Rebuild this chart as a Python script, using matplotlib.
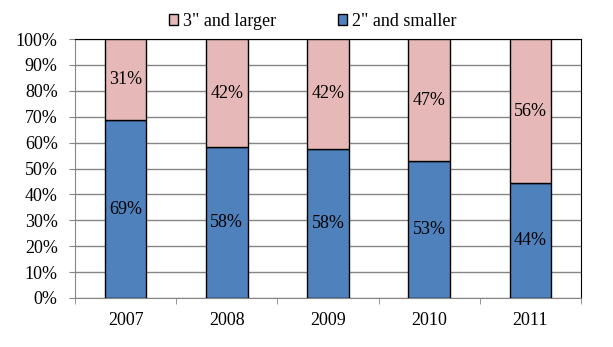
import numpy as np
import matplotlib.pyplot as plt

# datos
years = ['2007', '2008', '2009', '2010', '2011']
small = [68.6, 58.3, 57.6, 52.8, 44.3]   # 2" and smaller
large = [100 - v for v in small]          # 3" and larger

plt.rcParams['font.family'] = ['Liberation Serif', 'DejaVu Serif']

fig = plt.figure(figsize=(6.13, 3.47), dpi=100)
ax = fig.add_axes([75/613, 1 - 298/347, (581-75)/613, (298-39)/347])

x = np.arange(len(years))
w = 0.41
b1 = ax.bar(x, small, w, color='#4F81BD', edgecolor='black', linewidth=1, label='2" and smaller', zorder=3)
b2 = ax.bar(x, large, w, bottom=small, color='#E6B9B8', edgecolor='black', linewidth=1, label='3" and larger', zorder=3)

for i in range(len(years)):
    ax.text(x[i], small[i] / 2, '%d%%' % round(small[i]), ha='center', va='center', fontsize=13, zorder=4)
    ax.text(x[i], small[i] + large[i] / 2, '%d%%' % round(large[i]), ha='center', va='center', fontsize=13, zorder=4)

ax.set_xlim(-0.5, len(years) - 0.5)
ax.set_ylim(0, 100)
ax.set_yticks(np.arange(0, 101, 10))
ax.set_yticklabels(['%d%%' % v for v in range(0, 101, 10)], fontsize=13)
ax.yaxis.grid(True, color='#868686', linewidth=1, zorder=0)

ax.set_xticks(x)
ax.set_xticklabels(years, fontsize=13)
ax.tick_params(axis='x', length=0, pad=10)
ax.set_xticks(np.arange(-0.5, len(years)), minor=True)
ax.tick_params(axis='x', which='minor', length=4.5, color='#868686', direction='out')
ax.tick_params(axis='y', length=4.5, color='#868686', direction='out', pad=8)

for s in ['left', 'bottom']:
    ax.spines[s].set_color('#868686')
for s in ['top', 'right']:
    ax.spines[s].set_color('black')
    ax.spines[s].set_linewidth(0.8)

fig.legend(handles=[b2, b1], loc='upper center', bbox_to_anchor=(0.51, 1.01), ncol=2,
           frameon=False, fontsize=13, handlelength=0.5, handleheight=0.5,
           handletextpad=0.3, columnspacing=3.4)

fig.savefig('out.png', dpi=100)
